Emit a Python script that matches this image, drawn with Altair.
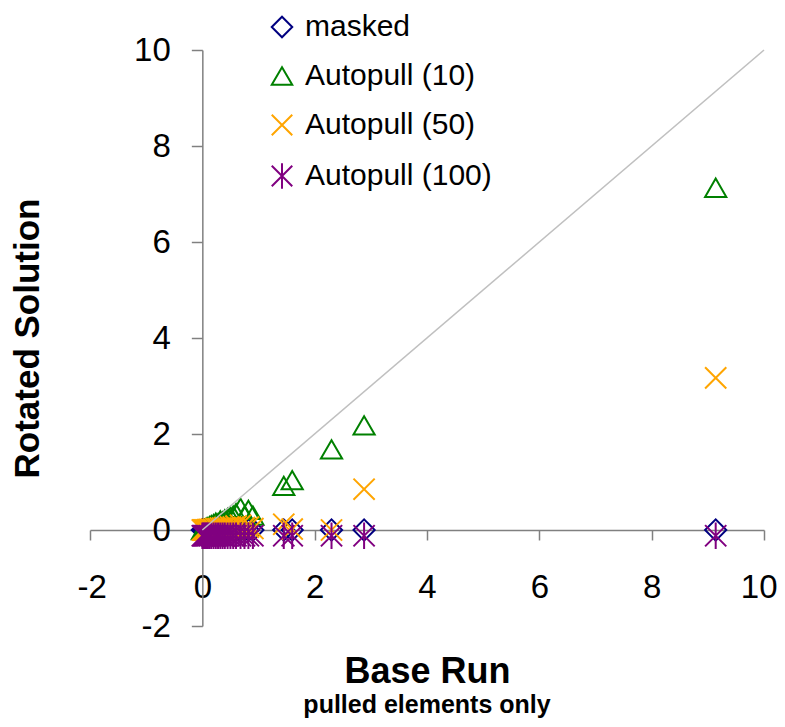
import altair as alt
import pandas as pd

# ---------------- data ----------------
series_names = ["masked", "Autopull (10)", "Autopull (50)", "Autopull (100)"]
series_colors = ["#000080", "#008000", "#FFA500", "#800080"]
series_shapes = [
    "diamond",
    "triangle-up",
    "M-1,-1L1,1M-1,1L1,-1",
    "M-1,-1L1,1M-1,1L1,-1M0,-1.25L0,1.25",
]

base_x = [0.00, 0.02, 0.04, 0.06, 0.08, 0.10, 0.13, 0.16, 0.20, 0.24, 0.28, 0.32, 0.36, 0.40,
          0.45, 0.50, 0.55, 0.60, 0.68, 0.75, 0.82, 0.90, 1.45, 1.60, 2.30, 2.88, 9.14]
masked_y = [0, 0, 0, 0, 0, 0, 0, 0, 0, 0, 0, 0, 0, 0,
            0, 0, 0, 0, 0, 0, 0, 0, 0, 0, 0, 0, 0]
auto10_y = [0.00, 0.01, 0.02, 0.03, 0.05, 0.06, 0.08, 0.10, 0.12, 0.15, 0.14, 0.20, 0.18, 0.22,
            0.25, 0.28, 0.30, 0.35, 0.46, 0.30, 0.42, 0.30, 0.92, 1.04, 1.68, 2.18, 7.13]
auto50_y = [0.00, 0.00, 0.00, 0.00, 0.00, 0.01, 0.01, 0.02, 0.02, 0.03, 0.03, 0.04, 0.04, 0.05,
            0.05, 0.06, 0.06, 0.08, 0.10, 0.05, 0.06, 0.03, 0.12, 0.02, 0.00, 0.85, 3.17]
auto100_y = [-0.12, -0.12, -0.12, -0.12, -0.12, -0.12, -0.12, -0.12, -0.12, -0.12, -0.12, -0.12,
             -0.12, -0.12, -0.12, -0.12, -0.12, -0.12, -0.12, -0.12, -0.12, -0.12, -0.12, -0.12,
             -0.12, -0.12, -0.12]

diag_x = [0, 10]
diag_y = [0, 10]

x_ticks = [-2, 0, 2, 4, 6, 8, 10]
y_ticks = [-2, 0, 2, 4, 6, 8, 10]
x_title = "Base Run"
y_title = "Rotated Solution"
subtitle = "pulled elements only"

# ---------------- build tables ----------------
rows = []
for name, ys in zip(series_names, [masked_y, auto10_y, auto50_y, auto100_y]):
    for xv, yv in zip(base_x, ys):
        rows.append({"series": name, "x": xv, "y": yv})
df = pd.DataFrame(rows)
diag = pd.DataFrame({"x": diag_x, "y": diag_y})

FONT = "Liberation Sans"
W, H = 674, 576
X_DOM = [-2, 10]
Y_DOM = [-2, 10]
x_off = -H * (0 - Y_DOM[0]) / (Y_DOM[1] - Y_DOM[0])
y_off = -W * (0 - X_DOM[0]) / (X_DOM[1] - X_DOM[0])

xscale = alt.Scale(domain=X_DOM, nice=False, zero=False)
yscale = alt.Scale(domain=Y_DOM, nice=False, zero=False)

xaxis = alt.Axis(
    values=x_ticks, offset=x_off, grid=False,
    domainColor="#808080", domainWidth=1.5, tickColor="#808080", tickWidth=1.5, tickSize=10,
    labelFont=FONT, labelFontSize=33, labelColor="black", labelPadding=31,
    labelExpr="'' + datum.value", labelFlush=True, labelFlushOffset=13, labelOverlap=False,
    title=x_title, titleFont=FONT, titleFontSize=36, titleFontWeight="bold", titleColor="black",
    titleX=W / 2, titleY=152, titleBaseline="alphabetic", titleAlign="center",
)
yaxis = alt.Axis(
    values=y_ticks, offset=y_off, grid=False,
    domainColor="#808080", domainWidth=1.5, tickColor="#808080", tickWidth=1.5, tickSize=11,
    labelFont=FONT, labelFontSize=33, labelColor="black", labelPadding=21,
    labelExpr="'' + datum.value", labelFlush=False, labelOverlap=False,
    title=y_title, titleFont=FONT, titleFontSize=35, titleFontWeight="bold", titleColor="black",
    titleX=-175, titleY=H / 2, titleAngle=270, titleBaseline="middle", titleAlign="center",
)

legend = alt.Legend(
    title=None, orient="none", legendX=177, legendY=-38, padding=0,
    labelFont=FONT, labelFontSize=30, labelColor="black", labelLimit=400, labelOffset=8,
    symbolSize=420, symbolStrokeWidth=2, rowPadding=19,
)

points = alt.Chart(df).mark_point(filled=False, strokeWidth=2, size=450, opacity=1).encode(
    x=alt.X("x:Q", scale=xscale, axis=xaxis),
    y=alt.Y("y:Q", scale=yscale, axis=yaxis),
    color=alt.Color("series:N", scale=alt.Scale(domain=series_names, range=series_colors), legend=legend),
    shape=alt.Shape("series:N", scale=alt.Scale(domain=series_names, range=series_shapes), legend=legend),
)

line = alt.Chart(diag).mark_line(color="#C0C0C0", strokeWidth=1.5).encode(
    x=alt.X("x:Q", scale=xscale, axis=xaxis),
    y=alt.Y("y:Q", scale=yscale, axis=yaxis),
)

sub = alt.Chart(pd.DataFrame({"t": [subtitle]})).mark_text(
    font=FONT, fontSize=25, fontWeight="bold", color="black", align="center", baseline="alphabetic"
).encode(text="t:N", x=alt.value(W / 2), y=alt.value(663))

chart = alt.layer(points, line, sub).properties(
    width=W, height=H,
    background="white",
    autosize=alt.AutoSizeParams(type="none"),
    padding={"left": 82, "top": 42, "right": 13, "bottom": 93},
).configure_view(stroke=None)

chart.save("out.html", embed_options={"renderer": "svg", "actions": False})
